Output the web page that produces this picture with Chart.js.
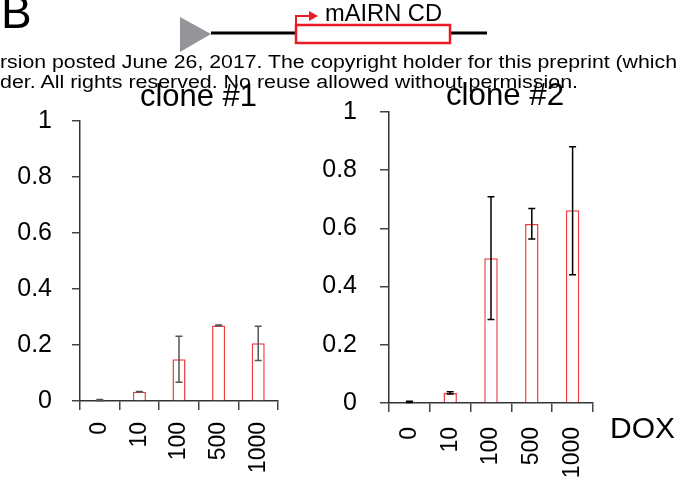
<!DOCTYPE html>
<html>
<head>
<meta charset="utf-8">
<script src="https://cdn.jsdelivr.net/npm/chart.js@4.4.1/dist/chart.umd.min.js"></script>
<style>
  html, body { margin: 0; padding: 0; background: #fff; }
  #wrap { position: relative; width: 686px; height: 481px; overflow: hidden; }
  #wrap canvas, #wrap svg { position: absolute; }
  svg text { font-family: "Liberation Sans", Arial, sans-serif; fill: #000; }
</style>
</head>
<body>
<div id="wrap">
  <canvas id="clone1Chart" width="300" height="381" style="left:0;top:100px"></canvas>
  <canvas id="clone2Chart" width="386" height="391" style="left:300px;top:90px"></canvas>
  <svg width="686" height="481" style="left:0;top:0">
    <!-- panel letter + construct diagram -->
    <text x="1" y="28" font-size="46">B</text>
    <line x1="211" y1="33" x2="296" y2="33" stroke="#000" stroke-width="3"/>
    <line x1="450" y1="33" x2="487" y2="33" stroke="#000" stroke-width="3"/>
    <polygon points="180,17 211,34 180,52" fill="#939598"/>
    <rect x="296" y="25" width="154" height="18" fill="#fff" stroke="#ed1c24" stroke-width="2.5"/>
    <path d="M296,25 V16 H310" fill="none" stroke="#ed1c24" stroke-width="2"/>
    <polygon points="309,11 318,16 309,21" fill="#ed1c24"/>
    <text x="325" y="21" font-size="23" textLength="117" lengthAdjust="spacingAndGlyphs">mAIRN CD</text>
    <!-- biorxiv watermark lines -->
    <text x="0" y="68" font-size="18" textLength="677" lengthAdjust="spacingAndGlyphs">rsion posted June 26, 2017. The copyright holder for this preprint (which</text>
    <text x="0" y="88" font-size="18" textLength="578" lengthAdjust="spacingAndGlyphs">der. All rights reserved. No reuse allowed without permission.</text>
    <!-- titles -->
    <text x="140" y="106" font-size="32" textLength="117" lengthAdjust="spacingAndGlyphs">clone #1</text>
    <text x="446" y="105" font-size="32" textLength="118" lengthAdjust="spacingAndGlyphs">clone #2</text>
    <text x="610" y="438" font-size="29" textLength="65" lengthAdjust="spacingAndGlyphs">DOX</text>
  </svg>
</div>
<script>
// dosis de DOX (eje x)
const doseLabels = ["0", "10", "100", "500", "1000"];
const yTicks = [0, 0.2, 0.4, 0.6, 0.8, 1];

// clone #1: media y barras de error (min/max)
const clone1Mean = [0.003, 0.033, 0.149, 0.270, 0.206];
const clone1Low = [0.001, 0.032, 0.067, 0.269, 0.145];
const clone1High = [0.005, 0.034, 0.231, 0.271, 0.267];

// clone #2
const clone2Mean = [0.004, 0.034, 0.497, 0.615, 0.662];
const clone2Low = [0.002, 0.031, 0.287, 0.564, 0.441];
const clone2High = [0.006, 0.039, 0.709, 0.668, 0.881];

const FONT = "'Liberation Sans', Arial, sans-serif";

// plugin para dibujar las barras de error con las escalas del grafico
const errorBars = {
    id: "errorBars",
    afterDatasetsDraw(chart, args, opts) {
        const ctx = chart.ctx;
        const meta = chart.getDatasetMeta(0);
        const y = chart.scales.y;
        ctx.save();
        ctx.strokeStyle = opts.color;
        ctx.lineWidth = 1.5;
        meta.data.forEach((bar, i) => {
            const top = y.getPixelForValue(opts.high[i]);
            const bottom = y.getPixelForValue(opts.low[i]);
            ctx.beginPath();
            ctx.moveTo(bar.x, top);
            ctx.lineTo(bar.x, bottom);
            ctx.moveTo(bar.x - 3.5, top);
            ctx.lineTo(bar.x + 3.5, top);
            ctx.moveTo(bar.x - 3.5, bottom);
            ctx.lineTo(bar.x + 3.5, bottom);
            ctx.stroke();
        });
        ctx.restore();
    }
};

function makeChart(canvasId, values, low, high, cfg) {
    return new Chart(document.getElementById(canvasId), {
        type: "bar",
        data: {
            labels: doseLabels,
            datasets: [{
                data: values,
                backgroundColor: "#ffffff",
                borderColor: "#ef3e42",
                borderWidth: 1.5,
                barPercentage: 0.33,
                categoryPercentage: 1
            }]
        },
        options: {
            responsive: false,
            animation: false,
            devicePixelRatio: 1,
            layout: { padding: { top: cfg.padTop, right: cfg.padRight, left: 0, bottom: 0 } },
            plugins: {
                legend: { display: false },
                tooltip: { enabled: false },
                errorBars: { low: low, high: high, color: cfg.errColor }
            },
            scales: {
                x: {
                    offset: true,
                    grid: { offset: true, drawOnChartArea: false, color: "#444", tickLength: 9, lineWidth: 1.5 },
                    border: { color: "#333", width: 1.5 },
                    ticks: {
                        color: "#000", autoSkip: false, minRotation: 90, maxRotation: 90,
                        padding: cfg.xPad, font: { family: FONT, size: 23 }
                    },
                    // tamaño fijo, sin el padding extra de las etiquetas
                    afterFit: (s) => { s.height = cfg.xHeight; s.paddingLeft = 0; s.paddingRight = 0; }
                },
                y: {
                    min: 0, max: 1,
                    afterBuildTicks: (s) => { s.ticks = yTicks.map(v => ({ value: v })); },
                    grid: { drawOnChartArea: false, color: "#444", tickLength: cfg.yTick, lineWidth: 1.5 },
                    border: { color: "#333", width: 1.5 },
                    ticks: {
                        color: "#000", padding: cfg.yPad, font: { family: FONT, size: 25 },
                        callback: (v) => String(v)
                    },
                    afterFit: (s) => { s.width = cfg.yWidth; s.paddingTop = 0; s.paddingBottom = 0; }
                }
            }
        },
        plugins: [errorBars]
    });
}

const clone1Chart = makeChart("clone1Chart", clone1Mean, clone1Low, clone1High, {
    padTop: 21, padRight: 22, xHeight: 80, yWidth: 80, xPad: 12, yPad: 20, yTick: 8, errColor: "#555"
});
const clone2Chart = makeChart("clone2Chart", clone2Mean, clone2Low, clone2High, {
    padTop: 22, padRight: 93, xHeight: 78, yWidth: 89, xPad: 15, yPad: 23, yTick: 9, errColor: "#000"
});
</script>
</body>
</html>
